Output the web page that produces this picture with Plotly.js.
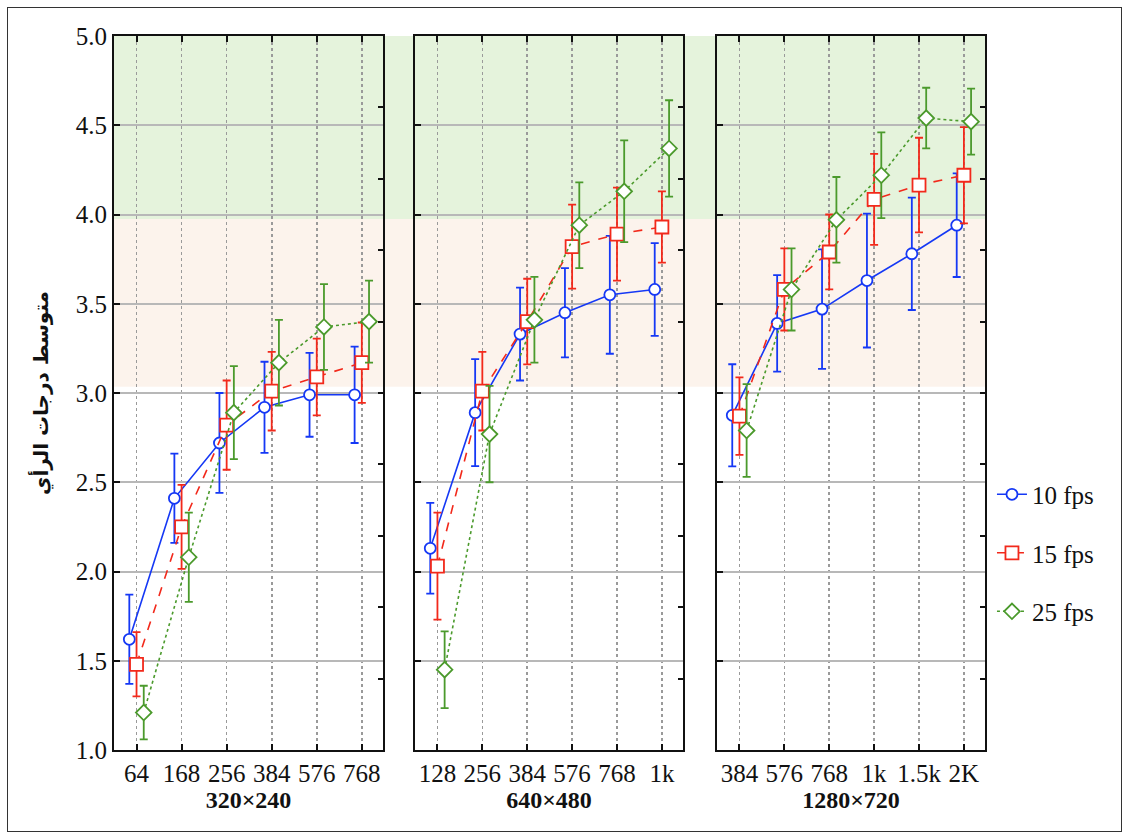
<!DOCTYPE html>
<html><head><meta charset="utf-8">
<script src="https://cdn.plot.ly/plotly-3.0.1.min.js"></script>
<style>
body{margin:0;background:#fff}
#chart{position:absolute;left:0;top:0;width:1129px;height:838px}
#frame{position:absolute;left:7px;top:7px;width:1113px;height:823px;border:1.5px solid #333;pointer-events:none}
</style>
</head><body>
<div id="chart"></div><div id="frame"></div>
<script>
// ---- data ----
const panelTitles = ['320×240', '640×480', '1280×720'];
const ticks320 = ['64', '168', '256', '384', '576', '768'];
const ticks640 = ['128', '256', '384', '576', '768', '1k'];
const ticks1280 = ['384', '576', '768', '1k', '1.5k', '2K'];
const seriesNames = ['10 fps', '15 fps', '25 fps'];

const fps10_320 = [1.62, 2.41, 2.72, 2.92, 2.99, 2.99];
const fps10_320_err = [0.25, 0.25, 0.28, 0.255, 0.235, 0.27];
const fps15_320 = [1.48, 2.25, 2.82, 3.01, 3.09, 3.17];
const fps15_320_err = [0.18, 0.235, 0.25, 0.22, 0.215, 0.225];
const fps25_320 = [1.21, 2.08, 2.89, 3.17, 3.37, 3.40];
const fps25_320_err = [0.15, 0.25, 0.26, 0.24, 0.24, 0.23];

const fps10_640 = [2.13, 2.89, 3.33, 3.45, 3.55, 3.58];
const fps10_640_err = [0.254, 0.3, 0.26, 0.25, 0.33, 0.26];
const fps15_640 = [2.03, 3.01, 3.40, 3.82, 3.89, 3.93];
const fps15_640_err = [0.3, 0.22, 0.24, 0.235, 0.26, 0.2];
const fps25_640 = [1.45, 2.77, 3.41, 3.94, 4.13, 4.37];
const fps25_640_err = [0.215, 0.27, 0.24, 0.24, 0.285, 0.27];

const fps10_1280 = [2.875, 3.39, 3.47, 3.63, 3.78, 3.94];
const fps10_1280_err = [0.286, 0.27, 0.335, 0.375, 0.315, 0.29];
const fps15_1280 = [2.87, 3.58, 3.79, 4.085, 4.165, 4.22];
const fps15_1280_err = [0.217, 0.23, 0.21, 0.255, 0.265, 0.27];
const fps25_1280 = [2.79, 3.58, 3.97, 4.22, 4.54, 4.52];
const fps25_1280_err = [0.26, 0.23, 0.24, 0.24, 0.17, 0.185];

const bandGood = [3.975, 5.0];
const bandFair = [3.035, 3.975];
const yTitle = 'متوسط درجات الرأي';

// ---- styling / construction ----
const panels = [
  {ticks: ticks320, vals: [fps10_320, fps15_320, fps25_320], errs: [fps10_320_err, fps15_320_err, fps25_320_err]},
  {ticks: ticks640, vals: [fps10_640, fps15_640, fps25_640], errs: [fps10_640_err, fps15_640_err, fps25_640_err]},
  {ticks: ticks1280, vals: [fps10_1280, fps15_1280, fps25_1280], errs: [fps10_1280_err, fps15_1280_err, fps25_1280_err]}
];
const colors = ['#1538f5', '#f2291b', '#4b9a2c'];
const dashes = ['solid', 'dash', 'dot'];
const symbols = ['circle', 'square', 'diamond'];
const sizes = [11, 13, 12];
const offsets = [-0.16, 0, 0.16];
const serif = 'Liberation Serif, Times New Roman, serif';

const traces = [];
panels.forEach((p, pi) => {
  const xa = pi === 0 ? 'x' : 'x' + (pi + 1);
  const ya = pi === 0 ? 'y' : 'y' + (pi + 1);
  p.vals.forEach((v, si) => {
    traces.push({
      type: 'scatter', mode: 'lines+markers',
      x: v.map((_, i) => i + offsets[si]), y: v,
      xaxis: xa, yaxis: ya,
      name: seriesNames[si], legendgroup: seriesNames[si], showlegend: pi === 0,
      line: {color: colors[si], width: 1.6, dash: dashes[si]},
      marker: {symbol: symbols[si], size: sizes[si], color: '#ffffff', line: {color: colors[si], width: 1.8}},
      error_y: {type: 'data', array: p.errs[si], visible: true, color: colors[si], thickness: 1.8, width: 4},
      cliponaxis: false
    });
  });
  traces.push({type: 'scatter', x: [], y: [], xaxis: xa, yaxis: 'y' + (pi + 4), showlegend: false, hoverinfo: 'skip'});
});

const W = 871;
const domains = [[0, (383 - 114) / W], [(415 - 114) / W, (683 - 114) / W], [(717 - 114) / W, 1]];

const layout = {
  width: 1129, height: 838,
  margin: {l: 114, r: 144, t: 36, b: 88},
  paper_bgcolor: '#ffffff', plot_bgcolor: 'rgba(0,0,0,0)',
  font: {family: serif, color: '#111', size: 25},
  showlegend: true,
  legend: {x: 1.008, xanchor: 'left', y: 0.39, yanchor: 'top', font: {family: serif, size: 25, color: '#111'},
           tracegroupgap: 23, itemwidth: 30, bgcolor: 'rgba(0,0,0,0)', traceorder: 'grouped'},
  shapes: [
    {type: 'rect', xref: 'paper', yref: 'y', x0: 0, x1: 1, y0: bandGood[0], y1: bandGood[1], fillcolor: '#e5f3dc', line: {width: 0}, layer: 'below'},
    {type: 'rect', xref: 'paper', yref: 'y', x0: 0, x1: 1, y0: bandFair[0], y1: bandFair[1], fillcolor: '#fcf3ec', line: {width: 0}, layer: 'below'}
  ]
};

panels.forEach((p, pi) => {
  const n = pi + 1;
  const xk = pi === 0 ? 'xaxis' : 'xaxis' + n;
  const yk = pi === 0 ? 'yaxis' : 'yaxis' + n;
  const xa = pi === 0 ? 'x' : 'x' + n;
  const ya = pi === 0 ? 'y' : 'y' + n;
  layout[xk] = {
    domain: domains[pi], anchor: ya, range: [-0.5, 5.47],
    tickmode: 'array', tickvals: p.ticks.map((_, i) => i), ticktext: p.ticks,
    ticks: 'inside', ticklen: 6, tickwidth: 2, tickcolor: '#111',
    showline: true, linecolor: '#111', linewidth: 2, mirror: 'ticks',
    showgrid: true, griddash: 'dot', gridcolor: '#9a9a9a', gridwidth: 1.6, zeroline: false,
    tickfont: {family: serif, size: 25, color: '#111'},
    title: {text: panelTitles[pi], font: {family: serif, size: 24, color: '#111', weight: 'bold'}, standoff: 3},
    fixedrange: true
  };
  layout[yk] = {
    domain: [0, 1], anchor: xa, range: [1, 5], tick0: 1, dtick: 0.5, tickformat: '.1f',
    ticks: 'inside', ticklen: 6, tickwidth: 2, tickcolor: '#111',
    showline: true, linecolor: '#111', linewidth: 2, mirror: true,
    showgrid: true, gridcolor: '#b8b8b8', gridwidth: 2, zeroline: false,
    showticklabels: pi === 0,
    tickfont: {family: serif, size: 25, color: '#111'},
    fixedrange: true
  };
  if (pi === 0) {
    layout[yk].title = {text: yTitle, font: {family: 'DejaVu Sans, Noto Sans, sans-serif', size: 20, color: '#111', weight: 'bold'}, standoff: 22};
  }
  layout['yaxis' + (pi + 4)] = {
    overlaying: ya, anchor: xa, side: 'right', range: [1, 5], tick0: 1, dtick: 0.4,
    ticks: 'inside', ticklen: 5, tickwidth: 2, tickcolor: '#111',
    showticklabels: false, showgrid: false, showline: false, zeroline: false, fixedrange: true
  };
});

Plotly.newPlot('chart', traces, layout, {staticPlot: true, displayModeBar: false});
</script>
</body></html>
